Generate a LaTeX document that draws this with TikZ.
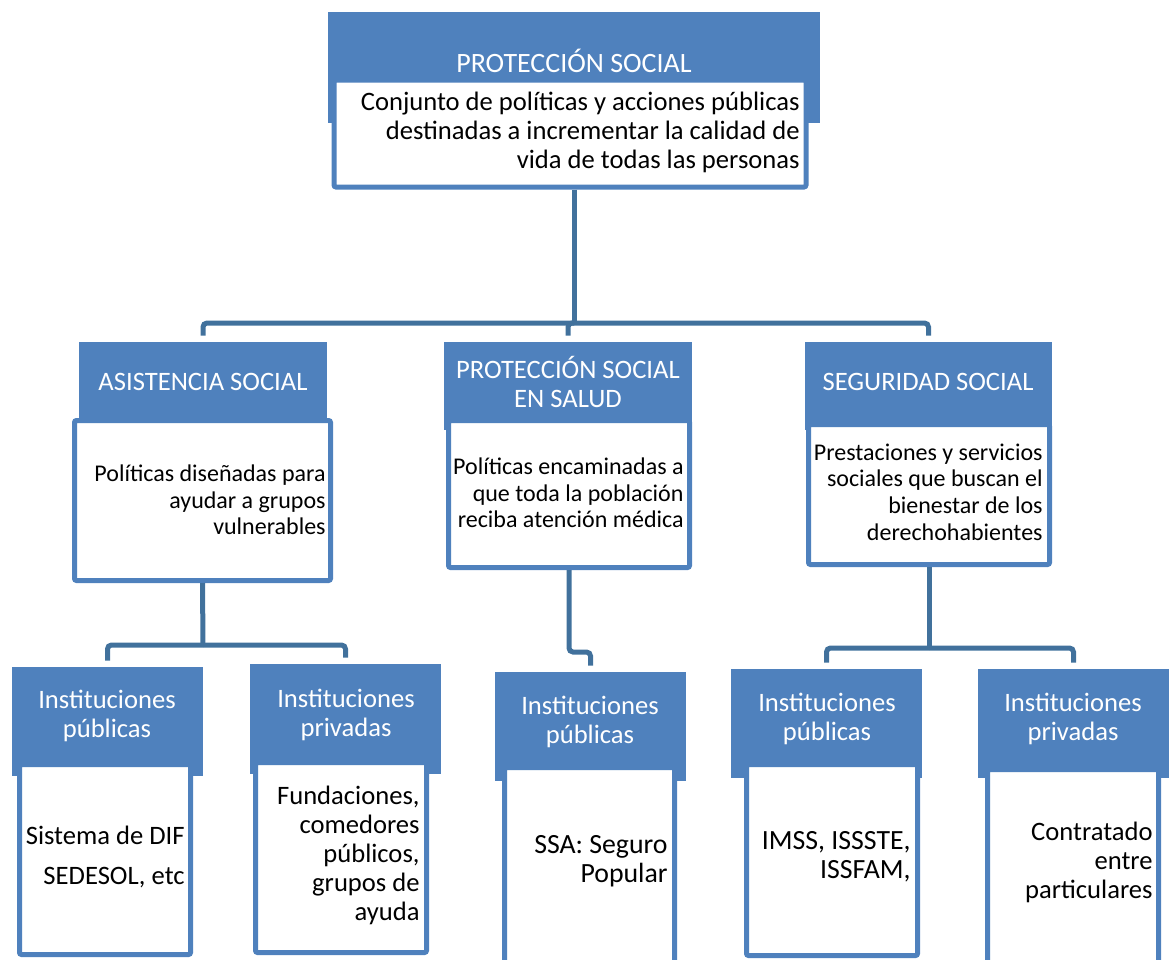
\documentclass[tikz,border=0pt]{standalone}
\usepackage{fontspec}
\setmainfont{Carlito}
\usetikzlibrary{fit}
\definecolor{azul}{HTML}{4F81BD}
\definecolor{linea}{HTML}{41719C}
\begin{document}
\begin{tikzpicture}[x=0.5pt,y=-0.5pt]
		\tikzstyle{every node}+=[inner sep=0pt,font=\fontsize{13.3}{14.5}\selectfont]
		\tikzstyle{cabeza}=[fill=azul,draw=none]
		\tikzstyle{cuerpo}=[fill=white,draw=azul,line width=2.5pt,rounded corners=1pt]
		\tikzstyle{titulo}=[text=white,align=center]
		\tikzstyle{texto}=[text=black,align=right,anchor=east]
		\tikzstyle{medio}=[font=\fontsize{12}{13.3}\selectfont]
		\tikzstyle{grande}=[font=\fontsize{13.9}{14.6}\selectfont]
		\tikzstyle{enlace}=[draw=linea,line width=2.5pt,rounded corners=2pt]
		\useasboundingbox (0,0) rectangle (1172,959);
		\node [cabeza,fit={(328,12) (820,123)}] (psHead) {};
		\node [cuerpo,fit={(334,80) (806,187)}] (psBody) {};
		\node [titulo,font=\fontsize{14}{15}\selectfont] (psTitle) at (574,61) {PROTECCIÓN SOCIAL};
		\node [texto] (psText) at (800,132) {Conjunto de políticas y acciones públicas\\destinadas a incrementar la calidad de\\vida de todas las personas};
		\node [cabeza,fit={(79,342) (327,425)}] (asHead) {};
		\node [cuerpo,fit={(74.5,420.5) (330.5,580.5)}] (asBody) {};
		\node [titulo] (asTitle) at (203,382) {ASISTENCIA SOCIAL};
		\node [texto,medio] (asText) at (326,500) {Políticas diseñadas para\\ayudar a grupos\\vulnerables};
		\node [cabeza,fit={(444,342) (692,430)}] (pseHead) {};
		\node [cuerpo,fit={(448.5,420.5) (689.5,567.5)}] (pseBody) {};
		\node [titulo] (pseTitle) at (568,382) {PROTECCIÓN SOCIAL\\EN SALUD};
		\node [texto,medio] (pseText) at (684,493) {Políticas encaminadas a\\que toda la población\\reciba atención médica};
		\node [cabeza,fit={(805,342) (1052,430)}] (seHead) {};
		\node [cuerpo,fit={(808.5,424.5) (1049.5,564.5)}] (seBody) {};
		\node [titulo] (seTitle) at (928,382) {SEGURIDAD SOCIAL};
		\node [texto,medio] (seText) at (1043,492) {Prestaciones y servicios\\sociales que buscan el\\bienestar de los\\derechohabientes};
		\node [cabeza,fit={(12,667) (203,776)}] (ip1Head) {};
		\node [cuerpo,fit={(19.5,764.5) (190.5,954.5)}] (ip1Body) {};
		\node [titulo] (ip1Title) at (107,716) {Instituciones\\públicas};
		\node [texto] (ip1Text) at (185,857) {Sistema de DIF\\[5.5pt]SEDESOL, etc};
		\node [cabeza,fit={(250,664) (441,774)}] (pr1Head) {};
		\node [cuerpo,fit={(255.5,762.5) (426.5,952.5)}] (pr1Body) {};
		\node [titulo] (pr1Title) at (346,715) {Instituciones\\privadas};
		\node [texto] (pr1Text) at (420,855) {Fundaciones,\\comedores\\públicos,\\grupos de\\ayuda};
		\node [cabeza,fit={(495,672) (686,781)}] (ip2Head) {};
		\node [cuerpo,fit={(504.5,767.5) (674.5,965)}] (ip2Body) {};
		\node [titulo] (ip2Title) at (590,722) {Instituciones\\públicas};
		\node [texto,grande] (ip2Text) at (668,861) {SSA: Seguro\\Popular};
		\node [cabeza,fit={(731,669) (922,778)}] (ip3Head) {};
		\node [cuerpo,fit={(746.5,764.5) (917.5,955.5)}] (ip3Body) {};
		\node [titulo] (ip3Title) at (827,719) {Instituciones\\públicas};
		\node [texto,grande] (ip3Text) at (911,857) {IMSS, ISSSTE,\\ISSFAM,};
		\node [cabeza,fit={(978,669) (1169,778)}] (pr2Head) {};
		\node [cuerpo,fit={(987.5,769.5) (1158.5,965)}] (pr2Body) {};
		\node [titulo] (pr2Title) at (1073,719) {Instituciones\\privadas};
		\node [texto] (pr2Text) at (1153,862) {Contratado\\entre\\particulares};
		\coordinate (j0) at (574,323);
		\coordinate (j1) at (203,645);
		\coordinate (j2) at (569,652);
		\coordinate (j3) at (929,648);
		\draw [enlace] (psBody.south -| psHead.south) -- (j0);
		\draw [enlace,shorten >=3pt] (j0) -| (asHead.north);
		\draw [enlace,shorten >=3pt] (j0) -| (pseHead.north);
		\draw [enlace,shorten >=3pt] (j0) -| (seHead.north);
		\draw [enlace] (asBody.south) -- (j1);
		\draw [enlace,shorten >=3pt] (j1) -| (ip1Head.north);
		\draw [enlace,shorten >=3pt] (j1) -| (pr1Head.north);
		\draw [enlace,shorten >=3pt] (pseBody.south) -- (j2) -| (ip2Head.north);
		\draw [enlace] (seBody.south) -- (j3);
		\draw [enlace,shorten >=3pt] (j3) -| (ip3Head.north);
		\draw [enlace,shorten >=3pt] (j3) -| (pr2Head.north);
	\end{tikzpicture}
\end{document}
